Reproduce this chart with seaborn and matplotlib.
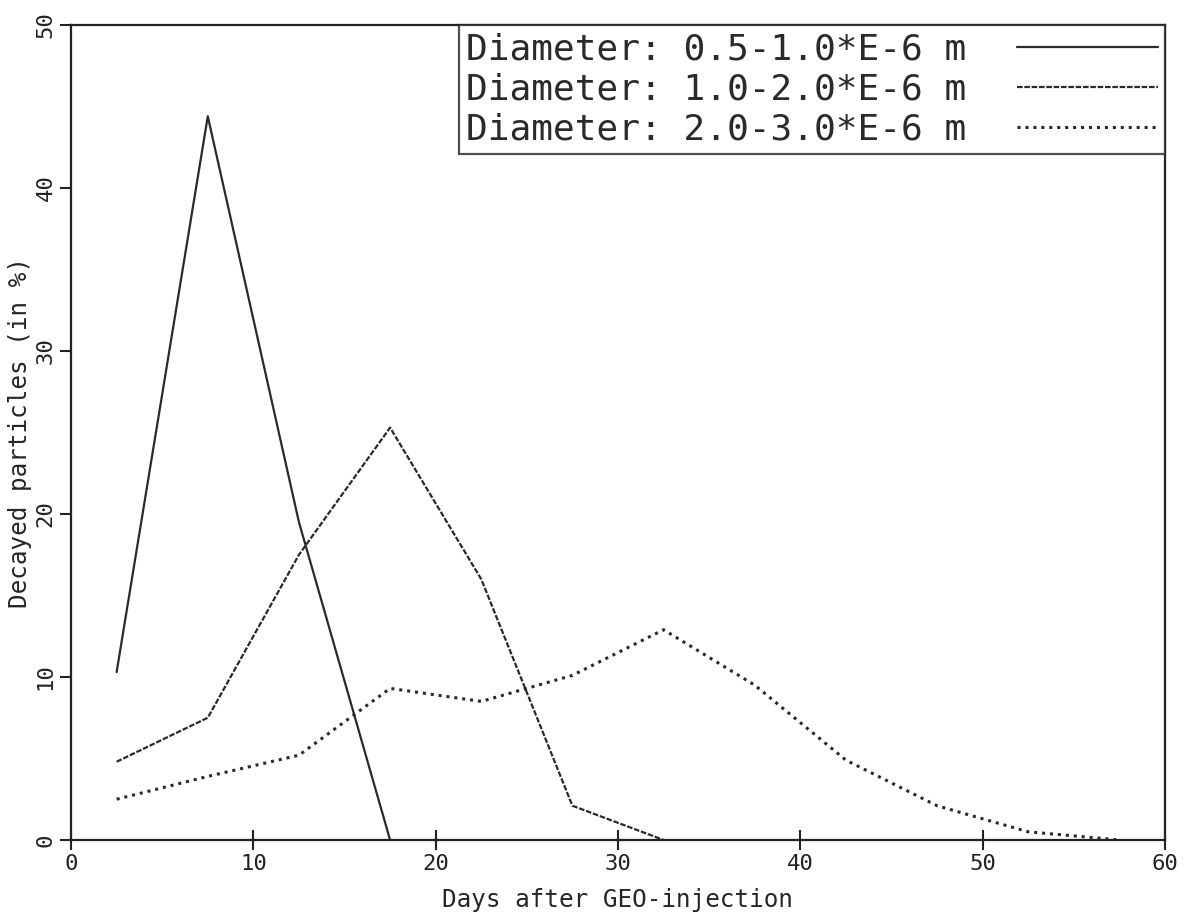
import matplotlib
matplotlib.use("Agg")
import matplotlib.pyplot as plt
import seaborn as sns
import pandas as pd

days = [2.5, 7.5, 12.5, 17.5, 22.5, 27.5, 32.5, 37.5, 42.5, 47.5, 52.5, 57.5]
labels = ["Diameter: 0.5-1.0*E-6 m",
          "Diameter: 1.0-2.0*E-6 m",
          "Diameter: 2.0-3.0*E-6 m"]
small = [10.3, 44.4, 19.5, 0.0]
medium = [4.8, 7.5, 17.5, 25.3, 16.0, 2.1, 0.0]
large = [2.5, 3.9, 5.2, 9.3, 8.5, 10.1, 12.9, 9.5, 4.9, 2.1, 0.5, 0.0]

x_ticks = [0, 10, 20, 30, 40, 50, 60]
y_ticks = [0, 10, 20, 30, 40, 50]

sns.set_theme(style="white")
plt.rcParams["font.family"] = ["DejaVu Sans Mono", "DejaVu Sans"]

fig = plt.figure(figsize=(11.88, 9.14), dpi=100)
ax = fig.add_axes([0.0598, 0.081, 0.9208, 0.8916])

series = [small, medium, large]
styles = [dict(linestyle="-", linewidth=1.6),
          dict(linestyle=(0, (2.5, 0.8)), linewidth=1.6),
          dict(linestyle=(0, (1.0, 1.6)), linewidth=2.2)]
for vals, lab, st in zip(series, labels, styles):
    df = pd.DataFrame({"day": days[:len(vals)], "pct": vals})
    sns.lineplot(data=df, x="day", y="pct", ax=ax, color="#2a2a2a",
                 label=lab, **st)

ax.set_xlim(0, 60)
ax.set_ylim(0, 50)
ax.set_xticks(x_ticks)
ax.set_yticks(y_ticks)
ax.set_xticklabels([str(t) for t in x_ticks], fontsize=16)
ax.set_yticklabels([str(t) for t in y_ticks], fontsize=16, rotation=90,
                   va="center")
ax.set_xlabel("Days after GEO-injection", fontsize=17.5, labelpad=10)
ax.set_ylabel("Decayed particles (in %)", fontsize=17.5, labelpad=3)

for sp in ax.spines.values():
    sp.set_visible(True)
    sp.set_color("#222222")
    sp.set_linewidth(1.6)

ax.tick_params(axis="x", direction="inout", length=14, width=1.5,
               colors="#222222", pad=3, bottom=True)
ax.tick_params(axis="y", direction="out", length=8, width=1.5,
               colors="#222222", pad=3, left=True)

leg = ax.legend(loc="upper right", bbox_to_anchor=(1.0, 1.0),
                borderaxespad=0, markerfirst=False, handlelength=3.9,
                handletextpad=1.4, labelspacing=0.17, borderpad=0.2,
                fontsize=26, frameon=True, fancybox=False, shadow=False)
leg.get_frame().set_edgecolor("#222222")
leg.get_frame().set_linewidth(1.6)
for t in leg.get_texts():
    t.set_color("#2a2a2a")

fig.savefig("out.png", dpi=100, facecolor="white")
